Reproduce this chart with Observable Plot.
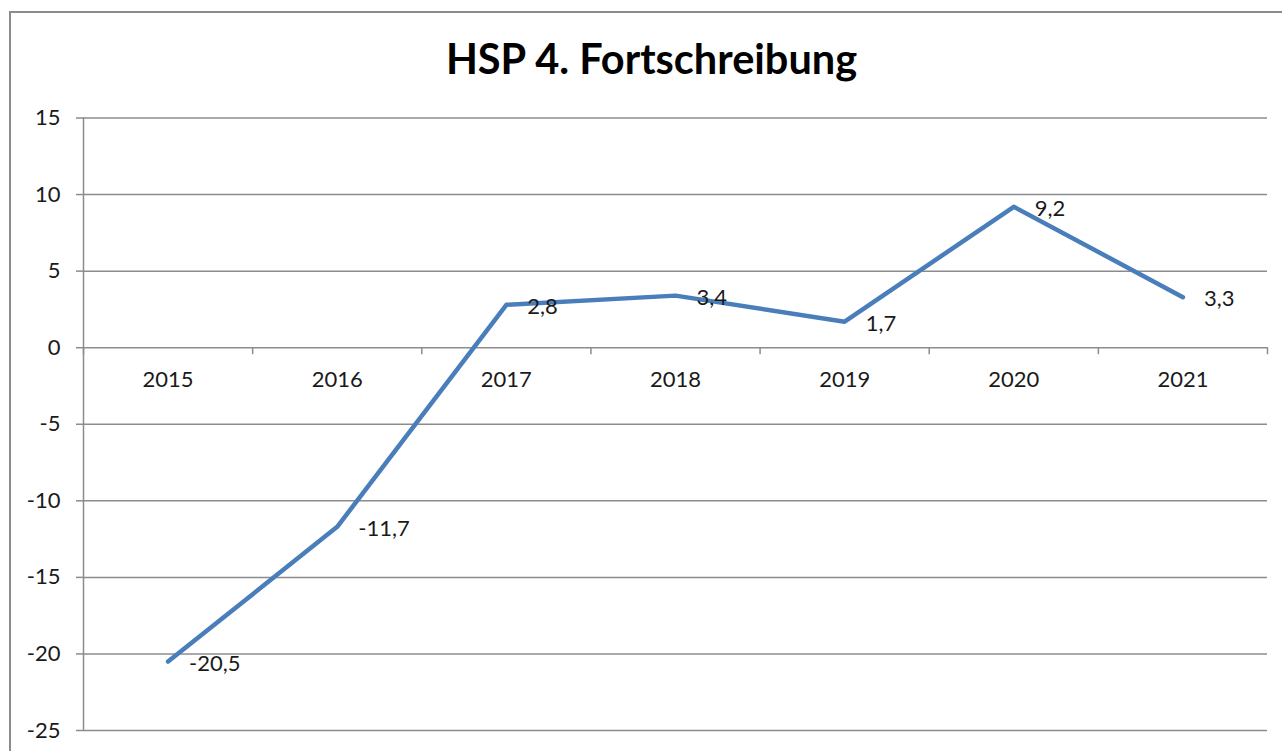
<!DOCTYPE html>
<html><head><meta charset="utf-8">
<script src="https://cdn.jsdelivr.net/npm/d3@7"></script>
<script src="https://cdn.jsdelivr.net/npm/@observablehq/plot@0.6"></script>
<style>
body{margin:0;width:1282px;height:751px;overflow:hidden;background:#fff;font-family:Lato,sans-serif;position:relative}
#frame{position:absolute;left:9px;top:11px;width:1400px;height:900px;border:2px solid #8c8c8c;box-sizing:border-box}
#title{position:absolute;left:0;width:1303px;top:38px;text-align:center;font-weight:bold;font-size:41.5px;color:#000;line-height:1;font-family:Lato,sans-serif}
#chart{position:absolute;left:0;top:100px}
</style></head><body>
<div id="frame"></div>
<div id="title">HSP 4. Fortschreibung</div>
<div id="chart"></div>
<script>
const years = [2015, 2016, 2017, 2018, 2019, 2020, 2021];
const values = [-20.5, -11.7, 2.8, 3.4, 1.7, 9.2, 3.3];
const valueLabels = ["-20,5", "-11,7", "2,8", "3,4", "1,7", "9,2", "3,3"];
const yTicks = [-25, -20, -15, -10, -5, 0, 5, 10, 15];

const data = years.map((year, i) => ({year, value: values[i], label: valueLabels[i]}));
const bounds = [years[0] - 0.5, ...years.map(y => y + 0.5)];
const gridColor = "#8c8c8c";

const chart = Plot.plot({
  width: 1282, height: 651,
  marginTop: 17.5, marginBottom: 21, marginLeft: 83, marginRight: 15,
  style: {fontFamily: "Lato, sans-serif", fontSize: "22px", color: "#1a1a1a", background: "transparent", overflow: "visible"},
  x: {domain: [bounds[0], bounds[bounds.length - 1]], axis: null},
  y: {domain: [-25, 15], axis: null},
  marks: [
    Plot.gridY(yTicks, {stroke: gridColor, strokeOpacity: 1, strokeWidth: 1.5}),
    Plot.axisY({ticks: yTicks, tickSize: 7, tickPadding: 16, stroke: gridColor, strokeWidth: 1.5, tickFormat: d => String(d), fontSize: 22, fill: "#1a1a1a", label: null}),
    Plot.ruleX([bounds[0]], {stroke: gridColor, strokeWidth: 1.5}),
    Plot.ruleX(bounds, {y1: 0, y2: 0, insetBottom: -7, stroke: gridColor, strokeWidth: 1.5}),
    Plot.text(years, {x: d => d, y: 0, dy: 32, text: d => String(d), fill: "#1a1a1a", fontSize: 22}),
    Plot.line(data, {x: "year", y: "value", stroke: "#4a7ebb", strokeWidth: 4.5}),
    Plot.text(data, {x: "year", y: "value", text: "label", textAnchor: "start", dx: 21, dy: 2, fill: "#1a1a1a", fontSize: 22})
  ]
});
document.getElementById("chart").appendChild(chart);
</script>
</body></html>
